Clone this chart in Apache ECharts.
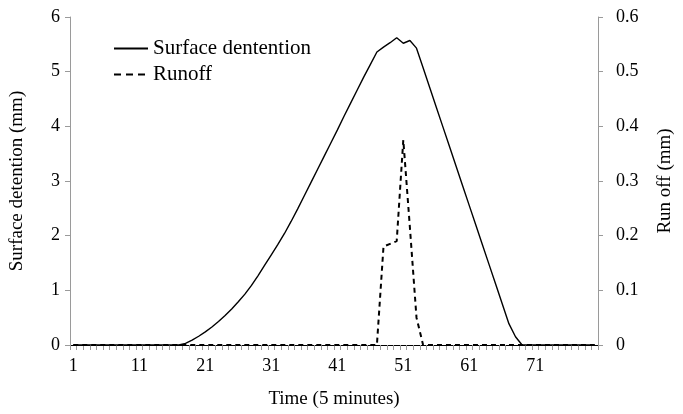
<!DOCTYPE html>
<html>
<head>
<meta charset="utf-8">
<script src="https://cdn.jsdelivr.net/npm/echarts@6/dist/echarts.min.js"></script>
<style>
html,body{margin:0;padding:0;background:#fff;}
#c{width:683px;height:414px;}
</style>
</head>
<body>
<div id="c"></div>
<script>
var categories = [
  1,2,3,4,5,6,7,8,9,10,
  11,12,13,14,15,16,17,18,19,20,
  21,22,23,24,25,26,27,28,29,30,
  31,32,33,34,35,36,37,38,39,40,
  41,42,43,44,45,46,47,48,49,50,
  51,52,53,54,55,56,57,58,59,60,
  61,62,63,64,65,66,67,68,69,70,
  71,72,73,74,75,76,77,78,79,80
];
var surfaceDetention = [
  0,0,0,0,0,0,0,0,0,0,
  0,0,0,0,0,0,0,0.03,0.09,0.16,
  0.24,0.33,0.43,0.54,0.66,0.79,0.93,1.09,1.27,1.46,
  1.65,1.84,2.04,2.26,2.49,2.73,2.97,3.21,3.45,3.69,
  3.93,4.18,4.42,4.66,4.90,5.13,5.36,5.45,5.53,5.62,
  5.52,5.57,5.43,5.07,4.71,4.35,3.99,3.63,3.27,2.91,
  2.55,2.19,1.83,1.47,1.11,0.75,0.39,0.15,0,0,
  0,0,0,0,0,0,0,0,0,0
];
var runoff = [
  0,0,0,0,0,0,0,0,0,0,
  0,0,0,0,0,0,0,0,0,0,
  0,0,0,0,0,0,0,0,0,0,
  0,0,0,0,0,0,0,0,0,0,
  0,0,0,0,0,0,0,0.18,0.185,0.19,
  0.375,0.215,0.05,0,0,0,0,0,0,0,
  0,0,0,0,0,0,0,0,0,0,
  0,0,0,0,0,0,0,0,0,0
];
var leftTicks = [0,1,2,3,4,5,6];
var rightTicks = [0,0.1,0.2,0.3,0.4,0.5,0.6];

var FONT = "'Liberation Serif','Times New Roman',serif";
var chart = echarts.init(document.getElementById('c'), null, {renderer:'canvas'});
chart.setOption({
  animation:false,
  backgroundColor:'#fff',
  textStyle:{fontFamily:FONT,color:'#000'},
  grid:{left:69,right:82,top:17,bottom:66,containLabel:false},
  legend:{
    orient:'vertical',left:113,top:38,padding:0,
    itemWidth:34,itemHeight:14,itemGap:5,
    itemStyle:{opacity:0},
    textStyle:{fontFamily:FONT,fontSize:21,color:'#000'},
    data:[
      {name:'Surface dentention'},
      {name:'Runoff',lineStyle:{type:[7,5],width:2}}
    ]
  },
  xAxis:[{
    type:'category',data:categories,boundaryGap:true,position:'bottom',
    name:'Time (5 minutes)',nameLocation:'middle',nameGap:45,
    nameTextStyle:{fontFamily:FONT,fontSize:19,color:'#000'},
    axisLine:{lineStyle:{color:'#9a9a9a',width:1}},
    axisTick:{show:true,interval:0,length:5,lineStyle:{color:'#9a9a9a'}},
    axisLabel:{interval:9,margin:12,fontFamily:FONT,fontSize:18,color:'#000'},
    splitLine:{show:false}
  },{
    type:'category',data:categories,position:'top',
    axisLine:{show:true,lineStyle:{color:'#000',width:1}},
    axisTick:{show:false},axisLabel:{show:false},splitLine:{show:false}
  }],
  yAxis:[{
    type:'value',min:leftTicks[0],max:leftTicks[leftTicks.length-1],interval:1,
    name:'Surface detention (mm)',nameLocation:'middle',nameGap:43,nameRotate:90,
    nameTextStyle:{fontFamily:FONT,fontSize:19,color:'#000'},
    axisLine:{show:true,lineStyle:{color:'#9a9a9a'}},
    axisTick:{show:true,length:5,lineStyle:{color:'#9a9a9a'}},
    axisLabel:{margin:10,fontFamily:FONT,fontSize:18,color:'#000'},
    splitLine:{show:false}
  },{
    type:'value',min:rightTicks[0],max:rightTicks[rightTicks.length-1],interval:0.1,position:'right',
    name:'Run off (mm)',nameLocation:'middle',nameGap:58,nameRotate:90,
    nameTextStyle:{fontFamily:FONT,fontSize:19,color:'#000'},
    axisLine:{show:true,lineStyle:{color:'#9a9a9a'}},
    axisTick:{show:true,length:5,lineStyle:{color:'#9a9a9a'}},
    axisLabel:{margin:18,fontFamily:FONT,fontSize:18,color:'#000',
      formatter:function(v){return String(Math.round(v*10)/10);}},
    splitLine:{show:false}
  }],
  series:[{
    name:'Surface dentention',type:'line',data:surfaceDetention,
    xAxisIndex:0,yAxisIndex:0,symbol:'none',smooth:false,
    lineStyle:{color:'#000',width:1.4},itemStyle:{color:'#000'},z:3
  },{
    name:'Runoff',type:'line',data:runoff,
    xAxisIndex:0,yAxisIndex:1,symbol:'none',smooth:false,
    lineStyle:{color:'#000',width:2,type:[5,4]},itemStyle:{color:'#000'},z:2
  }]
});
</script>
</body>
</html>
